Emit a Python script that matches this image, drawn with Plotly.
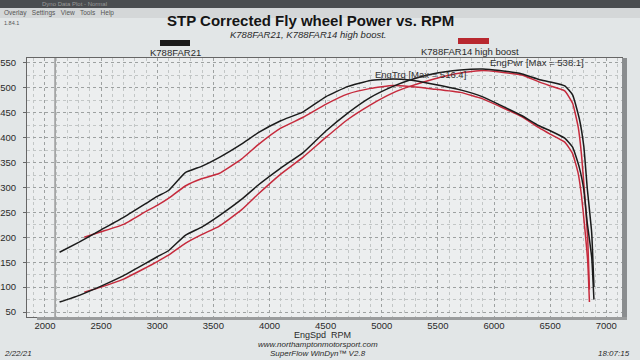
import plotly.graph_objects as go

# ---- data ----
rpm_a = [2130, 2300, 2500, 2700, 2900, 3000, 3100, 3250, 3400, 3550, 3750, 3900, 4100, 4300,
         4500, 4700, 4900, 5100, 5250, 5450, 5700, 5900, 6050, 6250, 6400, 6500, 6630, 6700,
         6760, 6800, 6830, 6870, 6890]
trq_a = [170, 190, 215, 240, 268, 282, 294, 330, 343, 360, 387, 410, 434, 452,
         482, 503, 515, 518, 516, 508, 496, 482, 466, 444, 424, 414, 399, 381,
         340, 295, 230, 160, 75]
pwr_a = [70, 83, 102, 123, 148, 161, 173, 204, 221, 243, 276, 305, 339, 370,
         413, 450, 481, 503, 516, 528, 536, 538, 535, 528, 517, 512, 504, 486,
         438, 382, 300, 209, 100]

rpm_b = [2350, 2500, 2700, 2900, 3000, 3100, 3250, 3400, 3550, 3750, 3900, 4100, 4300, 4500,
         4700, 4900, 5100, 5250, 5450, 5700, 5900, 6050, 6250, 6400, 6500, 6630, 6700, 6750,
         6780, 6810, 6835, 6850]
trq_b = [200, 211, 226, 252, 264, 278, 303, 318, 328, 357, 386, 419, 441, 467,
         488, 499, 505, 503, 498, 491, 478, 463, 442, 420, 407, 391, 368, 328,
         282, 215, 150, 70]
pwr_b = [90, 100, 116, 139, 151, 164, 188, 206, 222, 255, 287, 327, 361, 400,
         437, 466, 490, 503, 517, 530, 535, 532, 526, 512, 504, 494, 469, 421,
         364, 279, 195, 95]

x_ticks = [2000, 2500, 3000, 3500, 4000, 4500, 5000, 5500, 6000, 6500, 7000]
y_ticks = [50, 100, 150, 200, 250, 300, 350, 400, 450, 500, 550]

run_names = ["K788FAR21", "K788FAR14 high boost"]
run_colors = ["#1b1b1b", "#c62a3c"]

FONT = "Liberation Sans, Arial, sans-serif"
TXT = "#2a2a2a"

fig = go.Figure()
for rpm, trq, pwr, col, name in [(rpm_b, trq_b, pwr_b, run_colors[1], run_names[1]),
                                 (rpm_a, trq_a, pwr_a, run_colors[0], run_names[0])]:
    for y in (trq, pwr):
        fig.add_trace(go.Scatter(x=rpm, y=y, mode="lines", name=name, showlegend=False,
                                 line=dict(color=col, width=1.5, shape="spline", smoothing=0.4)))

W, H = 640, 360
L, R, T, B = 27, 18, 58, 43
def fx(p):
    return (p - L) / (W - L - R)
def fy(p):
    return 1 - (p - T) / (H - T - B)

ann = []
def t(x, y, s, size=9, color=TXT, xanchor="center"):
    ann.append(dict(x=fx(x), y=fy(y), xref="paper", yref="paper", text=s, showarrow=False,
                    xanchor=xanchor, yanchor="middle",
                    font=dict(family=FONT, size=size, color=color)))

t(310, 20, "<b>STP Corrected Fly wheel Power vs. RPM</b>", size=15, color="#151515")
t(308, 35, "<i>K788FAR21, K788FAR14 high boost.</i>", size=9.5)
t(175, 52, run_names[0], size=9.5)
t(470, 51, run_names[1], size=9.5)
t(420, 74, "EngTrq [Max = 516.4]", size=9.5, color="#333333")
t(537, 63, "EngPwr [Max = 538.1]", size=9.5, color="#333333")
t(322, 335, "EngSpd  RPM", size=9)
t(318, 344, "<i>www.northamptonmotorsport.com</i>", size=8)
t(318, 353, "<i>SuperFlow WinDyn\u2122 V2.8</i>", size=8)
t(2, 353, "<i>2/22/21</i>", size=8, xanchor="left")
t(632, 353, "<i>18:07:15</i>", size=8, xanchor="right")
t(40, 4, "Dyno Data Plot - Normal", size=6, color="#9a9a9a", xanchor="left")
t(2, 13, "Overlay   Settings   View   Tools   Help", size=6.5, color="#555555", xanchor="left")
t(2, 23, "1.84.1", size=5.5, color="#555555", xanchor="left")

shapes = [
    dict(type="rect", xref="paper", yref="paper", x0=fx(0), x1=fx(640), y0=fy(0), y1=fy(8),
         fillcolor="#4a4d50", line_width=0, layer="below"),
    dict(type="rect", xref="paper", yref="paper", x0=fx(0), x1=fx(640), y0=fy(8), y1=fy(18),
         fillcolor="#d4d7d8", line_width=0, layer="below"),
    dict(type="rect", xref="paper", yref="paper", x0=fx(160), x1=fx(190), y0=fy(40), y1=fy(46),
         fillcolor=run_colors[0], line_width=0),
    dict(type="rect", xref="paper", yref="paper", x0=fx(458), x1=fx(489), y0=fy(38), y1=fy(44),
         fillcolor="#b8282f", line_width=0),
    dict(type="rect", xref="paper", yref="paper", x0=fx(622), x1=fx(627), y0=fy(58), y1=fy(320),
         fillcolor="#8a8d8f", line_width=0),
    dict(type="rect", xref="paper", yref="paper", x0=fx(37), x1=fx(627), y0=fy(317), y1=fy(320),
         fillcolor="#9a9c9d", line_width=0),
    dict(type="line", xref="x", yref="paper", x0=2090, x1=2090, y0=0, y1=1,
         line=dict(color="#6a6a6a", width=1)),
]

fig.update_layout(
    width=W, height=H, autosize=False,
    margin=dict(l=L, r=R, t=T, b=B, autoexpand=False),
    paper_bgcolor="#e2e6e7", plot_bgcolor="#eceeef",
    font=dict(family=FONT, size=9, color=TXT),
    showlegend=False,
    annotations=ann, shapes=shapes,
    xaxis=dict(range=[1840, 7140], tickvals=x_ticks, ticktext=[str(v) for v in x_ticks],
               automargin=False,
               showgrid=True, gridcolor="#9da1a1", griddash="dot", gridwidth=1,
               minor=dict(dtick=100, tick0=2000, showgrid=True, gridcolor="#c2c6c6", griddash="dot"),
               zeroline=False, showline=True, linecolor="#666", mirror=True,
               ticks="", tickfont=dict(size=9.5, color=TXT)),
    yaxis=dict(range=[40, 560], tickvals=y_ticks, ticktext=[str(v) for v in y_ticks],
               automargin=False,
               showgrid=True, gridcolor="#9da1a1", griddash="dot", gridwidth=1,
               minor=dict(dtick=25, tick0=0, showgrid=True, gridcolor="#c2c6c6", griddash="dot"),
               zeroline=False, showline=True, linecolor="#666", mirror=True,
               ticks="outside", ticklen=3, tickcolor="#666", ticklabelstandoff=5,
               tickfont=dict(size=9.5, color=TXT)),
)

fig.write_html("out.html", config={"displayModeBar": False},
               post_script="document.body.style.margin='0';document.body.style.overflow='hidden';")
